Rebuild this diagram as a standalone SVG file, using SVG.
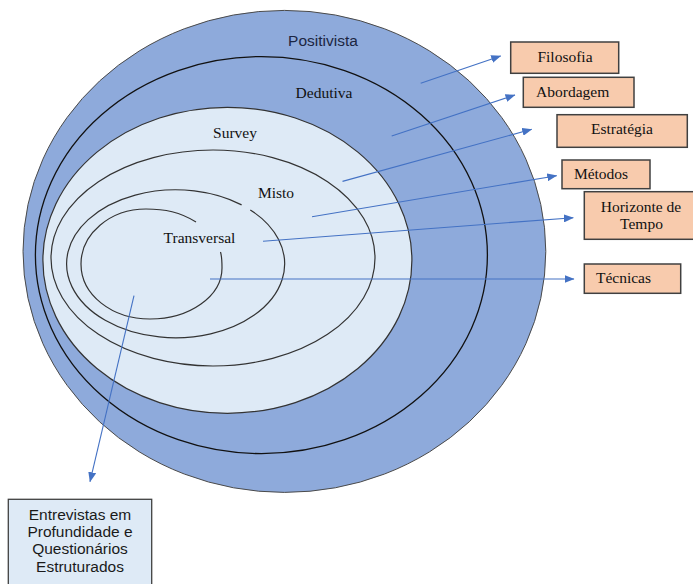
<svg xmlns="http://www.w3.org/2000/svg" width="693" height="584" viewBox="0 0 693 584">
<defs>
<style>
.ser{font-family:"Liberation Serif","Times New Roman",serif;font-size:15.5px;fill:#111;text-anchor:middle}
.san{font-family:"Liberation Sans",Arial,sans-serif;font-size:15.5px;fill:#1a1a1a;text-anchor:middle}
.box{fill:#f8cbad;stroke:#404040;stroke-width:1.5}
.curve{fill:none;stroke:#333;stroke-width:1.2}
.conn line{stroke:#4472c4;stroke-width:1.1;marker-end:url(#ah)}
</style>
<marker id="ah" viewBox="0 0 10 8" refX="9.5" refY="4" markerWidth="10" markerHeight="8" markerUnits="userSpaceOnUse" orient="auto">
<path d="M0,0 L10,4 L0,8 Z" fill="#4472c4"/>
</marker>
</defs>
<rect width="693" height="584" fill="#fff"/>
<g id="positivista">
<ellipse cx="284.4" cy="251.4" rx="261.4" ry="241" fill="#8eaadb" stroke="#4a4a4a" stroke-width="1"/>
<text class="san" x="323" y="46" style="fill:#1c2642">Positivista</text>
</g>
<g id="dedutiva">
<ellipse cx="261.4" cy="255.1" rx="226" ry="198.5" fill="#8eaadb" stroke="#111" stroke-width="1.3"/>
<text class="ser" x="324" y="98">Dedutiva</text>
</g>
<g id="survey">
<ellipse cx="227.4" cy="260.3" rx="184.5" ry="153" fill="#deeaf6" stroke="#333" stroke-width="1.2"/>
<text class="ser" x="235" y="138">Survey</text>
</g>
<g id="misto">
<ellipse class="curve" cx="213" cy="258" rx="162" ry="108"/>
<text class="ser" x="276" y="198">Misto</text>
</g>
<g id="transversal">
<path class="curve" d="M241.6,204.9 A109,74 0 1,0 250.3,209.9"/>
<path class="curve" d="M196,222 C180,212 165,209 146,209 C110,209 81,234 81,264 C81,295 112,319 150,319 C190,319 222,296 222,268 C222,262 222,257 220.5,252"/>
<text class="ser" x="199.5" y="242.5">Transversal</text>
</g>
<g id="filosofia">
<rect class="box" x="510.7" y="42" width="108" height="31.3"/>
<text class="ser" x="565" y="61.7">Filosofia</text>
</g>
<g id="abordagem">
<rect class="box" x="523.3" y="77.3" width="110.7" height="30"/>
<text class="ser" x="572.7" y="96.7">Abordagem</text>
</g>
<g id="estrategia">
<rect class="box" x="557" y="114.7" width="130.3" height="32.6"/>
<text class="ser" x="622" y="134.3">Estratégia</text>
</g>
<g id="metodos">
<rect class="box" x="562" y="160" width="88" height="28.7"/>
<text class="ser" x="601" y="179">Métodos</text>
</g>
<g id="horizonte">
<rect class="box" x="584.3" y="191.7" width="110" height="47.6"/>
<text class="ser" x="641" y="212.3">Horizonte de</text>
<text class="ser" x="641.5" y="229">Tempo</text>
</g>
<g id="tecnicas">
<rect class="box" x="584.3" y="264" width="96.4" height="29.3"/>
<text class="ser" x="623.5" y="283.3">Técnicas</text>
</g>
<g id="entrevistas">
<rect x="8.3" y="499.3" width="143.4" height="92" fill="#deeaf6" stroke="#404040" stroke-width="1.3"/>
<text class="san" x="80" y="520">Entrevistas em</text>
<text class="san" x="80" y="537.3">Profundidade e</text>
<text class="san" x="80" y="554.3">Questionários</text>
<text class="san" x="80" y="571.7">Estruturados</text>
</g>
<g class="conn" id="connectors">
<line x1="420.7" y1="83.3" x2="500.7" y2="56"/>
<line x1="391.7" y1="136" x2="515" y2="95"/>
<line x1="342.5" y1="181.4" x2="531.7" y2="129.3"/>
<line x1="312" y1="216.8" x2="556.7" y2="175.7"/>
<line x1="263" y1="241.3" x2="573.3" y2="217.7"/>
<line x1="210" y1="279" x2="574" y2="279"/>
<line x1="134" y1="295.7" x2="90" y2="481.7"/>
</g>
</svg>
